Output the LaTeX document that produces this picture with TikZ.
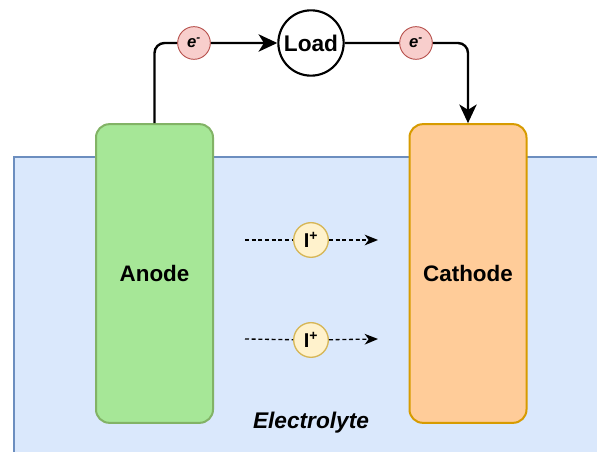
\documentclass[tikz,border=0pt]{standalone}
\usepackage{fontspec}
\setmainfont{Liberation Sans}
\usetikzlibrary{arrows.meta,positioning}
\definecolor{elecfill}{HTML}{DAE8FC}
\definecolor{elecdraw}{HTML}{6C8EBF}
\definecolor{anfill}{HTML}{A6E797}
\definecolor{andraw}{HTML}{82B366}
\definecolor{catfill}{HTML}{FFCC99}
\definecolor{catdraw}{HTML}{D79B00}
\definecolor{efill}{HTML}{F8CECC}
\definecolor{edraw}{HTML}{B85450}
\definecolor{ifill}{HTML}{FFF2CC}
\definecolor{idraw}{HTML}{D6B656}

\begin{document}
\begin{tikzpicture}[x=0.75pt, y=-0.75pt, >={Stealth[length=14pt, width=13pt, inset=4pt]},
  electrode/.style={rounded corners=10pt, line width=1.5pt, minimum width=87.75pt, minimum height=224pt,
    font=\fontsize{16.8}{20}\selectfont\bfseries},
  electron/.style={circle, draw=edraw, fill=efill, line width=0.7pt, minimum size=24.5pt, inner sep=0pt,
    font=\fontsize{12.5}{14}\selectfont\bfseries\itshape},
  ion/.style={circle, draw=idraw, fill=ifill, line width=1pt, minimum size=26pt, inner sep=0pt,
    font=\fontsize{15}{17}\selectfont\bfseries},
  wire/.style={line width=1.8pt, rounded corners=7.5pt},
  flow/.style={dash pattern=on 3pt off 2pt, line width=1pt, >={Stealth[length=10pt, width=8pt, inset=3pt]}}]
\clip (0,0) rectangle (597,452);
% electrolyte bath
\draw[fill=elecfill, draw=elecdraw, line width=1.5pt] (14,157) rectangle (640,500);
\node[font=\fontsize{17}{20}\selectfont\bfseries\itshape] (elec) at (311,423) {Electrolyte};
% electrodes
\node[electrode, draw=andraw, fill=anfill] (anode) at (154.5,273.5) {Anode};
\node[electrode, draw=catdraw, fill=catfill] (cathode) at (468,273.5) {Cathode};
% external circuit
\node[circle, draw, line width=1.6pt, minimum size=49pt, inner sep=0pt,
  font=\fontsize{17}{20}\selectfont\bfseries] (load) at (311,43) {Load};
\draw[wire, ->] (anode.north) |- (load);
\draw[wire, ->] (load) -| (cathode.north);
\node[electron] (e1) at (194,43) {e\textsuperscript{-}};
\node[electron] (e2) at (416,43) {e\textsuperscript{-}};
% ions
\node[ion] (i1) at (311,240) {I\textsuperscript{+}};
\node[ion, below=48pt of i1] (i2) {I\textsuperscript{+}};
\coordinate (s1) at (245,240);
\coordinate (t1) at (378,240);
\coordinate (s2) at (245,339);
\coordinate (t2) at (378,339);
\draw[flow, ->] (s1) -- (i1) -- (t1);
\draw[flow, ->] (s2) -- (i2) -- (t2);
\end{tikzpicture}
\end{document}
